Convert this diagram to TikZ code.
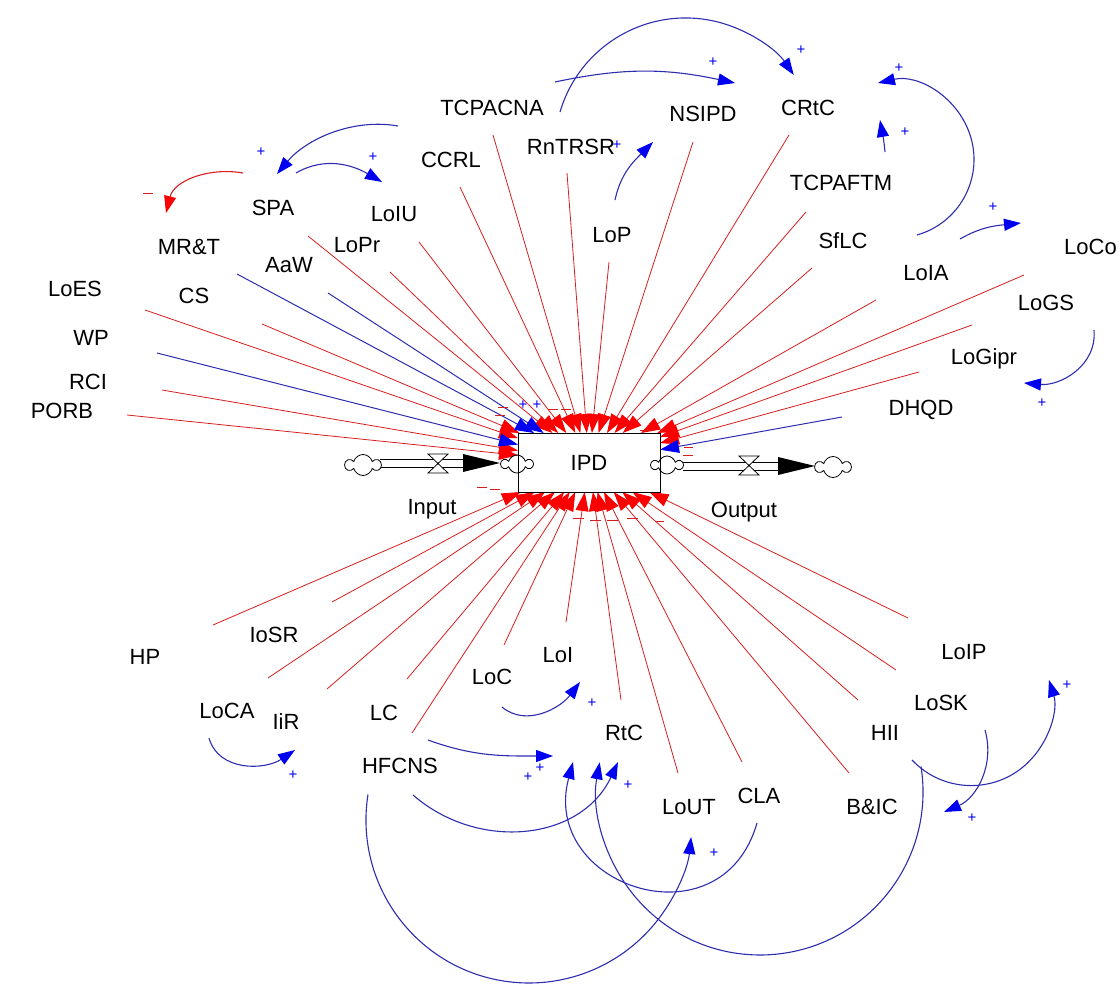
\documentclass[tikz,border=0pt]{standalone}
\usepackage{fontspec}
\setmainfont{Liberation Sans}
\usetikzlibrary{arrows.meta,shapes.symbols}
\definecolor{vred}{RGB}{215,30,30}
\definecolor{hred}{RGB}{250,0,0}
\definecolor{vblue}{RGB}{45,45,175}
\definecolor{hblue}{RGB}{0,0,240}
\begin{document}
\begin{tikzpicture}[x=1pt,y=1pt,
  lbl/.style={font=\fontsize{22}{24}\selectfont, inner sep=0pt, text height=15.8pt, text depth=0pt},
  redlink/.style={draw=vred, line width=0.8pt, -{Triangle[length=19pt,width=13pt,color=hred]}},
  bluelink/.style={draw=vblue, line width=1pt, -{Triangle[length=19pt,width=13pt,color=hblue]}},
  redarc/.style={draw=vred, line width=1.1pt, -{Triangle[length=17pt,width=12pt,color=hred]}},
  bluearc/.style={draw=vblue, line width=1.1pt, -{Triangle[length=17pt,width=12pt,color=hblue]}},
  plus/.style={text=hblue, font=\fontsize{15}{15}\selectfont, inner sep=0pt},
  minus/.style={draw=vred, line width=1pt},
  pipe/.style={draw=black, line width=0.8pt},
  cloudy/.style={cloud, cloud puffs=6, draw, line width=0.8pt, minimum width=35pt, minimum height=21pt, inner sep=0pt}
]
\useasboundingbox (0,0) rectangle (1120,-985);

% ---------- stock and flows ----------
\draw[pipe] (380,-459) -- (463,-459);
\draw[pipe] (380,-467) -- (463,-467);
\draw[pipe] (683,-462) -- (778,-462);
\draw[pipe] (683,-470) -- (778,-470);

% ---------- links into IPD (start points) ----------
\coordinate (sPORB) at (127,-415);
\coordinate (sRCI) at (162,-390);
\coordinate (sWP) at (157,-353);
\coordinate (sLoES) at (145,-310);
\coordinate (sCS) at (262,-324);
\coordinate (sMRT) at (237,-274);
\coordinate (sAaW) at (328,-293);
\coordinate (sSPA) at (308,-236);
\coordinate (sLoPr) at (390,-272);
\coordinate (sLoIU) at (419,-242);
\coordinate (sCCRL) at (460,-187);
\coordinate (sTCPACNA) at (493,-135);
\coordinate (sRnTRSR) at (567,-173);
\coordinate (sLoP) at (609,-262);
\coordinate (sNSIPD) at (693,-142);
\coordinate (sCRtC) at (789,-135);
\coordinate (sTCPAFTM) at (806,-212);
\coordinate (sSfLC) at (812,-268);
\coordinate (sLoIA) at (876,-300);
\coordinate (sLoCo) at (1024,-275);
\coordinate (sLoGS) at (972,-325);
\coordinate (sLoGipr) at (919,-372);
\coordinate (sDHQD) at (842,-417);
\coordinate (sHP) at (213,-625);
\coordinate (sIoSR) at (332,-602);
\coordinate (sLoCA) at (268,-678);
\coordinate (sIiR) at (327,-689);
\coordinate (sLC) at (407,-679);
\coordinate (sHFCNS) at (412,-733);
\coordinate (sLoC) at (504,-645);
\coordinate (sLoI) at (566,-622);
\coordinate (sRtC) at (621,-700);
\coordinate (sLoUT) at (678,-773);
\coordinate (sCLA) at (742,-762);
\coordinate (sBIC) at (849,-773);
\coordinate (sHII) at (858,-700);
\coordinate (sLoSK) at (896,-670);
\coordinate (sLoIP) at (908,-618);

\node[draw=none, minimum width=142pt, minimum height=59pt, inner sep=0pt, outer sep=0pt] (IPD0) at (589,-462.5) {};

\foreach \s in {sPORB,sRCI,sLoES,sCS,sSPA,sLoPr,sLoIU,sCCRL,sTCPACNA,sRnTRSR,sLoP,sNSIPD,sCRtC,sTCPAFTM,sSfLC,sLoIA,sLoCo,sLoGS,sLoGipr,sHP,sIoSR,sLoCA,sIiR,sLC,sHFCNS,sLoC,sLoI,sRtC,sLoUT,sCLA,sBIC,sHII,sLoSK,sLoIP}
  \draw[redlink] (\s) -- (IPD0);
\foreach \s in {sWP,sMRT,sAaW,sDHQD}
  \draw[bluelink] (\s) -- (IPD0);

% stock box
\node[draw, fill=white, line width=1pt, minimum width=142pt, minimum height=59pt, inner sep=0pt, lbl] (IPD) at (589,-462.5) {IPD};

% clouds, valves, flow arrow heads
\node[cloudy, fill=white] (c1) at (363,-465) {};
\node[cloudy, minimum width=31pt, minimum height=18pt] (c2) at (517,-464) {};
\node[cloudy, minimum width=31pt, minimum height=18pt] (c3) at (667,-465) {};
\node[cloudy, fill=white] (c4) at (833,-467) {};
\fill (463,-454) -- (500,-463) -- (463,-472) -- cycle;
\fill (778,-457) -- (815,-466) -- (778,-475) -- cycle;
\filldraw[fill=white, line width=0.8pt] (428,-454) -- (448,-454) -- (428,-473) -- (448,-473) -- cycle;
\filldraw[fill=white, line width=0.8pt] (739,-456) -- (759,-456) -- (739,-475) -- (759,-475) -- cycle;

% ---------- variable labels ----------
\node[lbl] (TCPACNA) at (492,-108) {TCPACNA};
\node[lbl] (CCRL) at (451,-160) {CCRL};
\node[lbl] (RnTRSR) at (571,-147) {RnTRSR};
\node[lbl] (NSIPD) at (703,-114) {NSIPD};
\node[lbl] (CRtC) at (808,-108) {CRtC};
\node[lbl] (SPA) at (273,-208) {SPA};
\node[lbl] (LoIU) at (394,-214) {LoIU};
\node[lbl] (MRT) at (189,-247) {MR\&T};
\node[lbl] (LoPr) at (357,-245) {LoPr};
\node[lbl] (AaW) at (289,-265) {AaW};
\node[lbl] (CS) at (194,-296) {CS};
\node[lbl] (LoES) at (75,-289) {LoES};
\node[lbl] (WP) at (91,-338) {WP};
\node[lbl] (RCI) at (88,-382) {RCI};
\node[lbl] (PORB) at (62,-411) {PORB};
\node[lbl] (LoP) at (612,-235) {LoP};
\node[lbl] (TCPAFTM) at (841,-183) {TCPAFTM};
\node[lbl] (SfLC) at (843,-241) {SfLC};
\node[lbl] (LoIA) at (926,-273) {LoIA};
\node[lbl, anchor=west] (LoCo) at (1064,-247) {LoCo};
\node[lbl] (LoGS) at (1046,-303) {LoGS};
\node[lbl] (LoGipr) at (984,-357) {LoGipr};
\node[lbl] (DHQD) at (921,-408) {DHQD};
\node[lbl] (HP) at (145,-657) {HP};
\node[lbl] (IoSR) at (274,-635) {IoSR};
\node[lbl] (LoCA) at (227,-711) {LoCA};
\node[lbl] (IiR) at (286,-722) {IiR};
\node[lbl] (LC) at (384,-713) {LC};
\node[lbl] (HFCNS) at (400,-766) {HFCNS};
\node[lbl] (LoC) at (492,-677) {LoC};
\node[lbl] (LoI) at (558,-655) {LoI};
\node[lbl] (RtC) at (624,-733) {RtC};
\node[lbl] (LoUT) at (689,-807) {LoUT};
\node[lbl] (CLA) at (759,-796) {CLA};
\node[lbl] (BIC) at (872,-807) {B\&IC};
\node[lbl] (HII) at (885,-733) {HII};
\node[lbl] (LoSK) at (941,-703) {LoSK};
\node[lbl] (LoIP) at (964,-652) {LoIP};
\node[lbl] (Input) at (432,-507) {Input};
\node[lbl] (Output) at (744,-510) {Output};

% ---------- curved causal links ----------
\coordinate (a1s) at (398,-126);  \coordinate (a1e) at (277,-174);
\coordinate (a2s) at (296,-173);  \coordinate (a2e) at (382,-182);
\coordinate (a3s) at (243,-173);  \coordinate (a3e) at (166,-213);
\coordinate (a4s) at (560,-112);
\coordinate (a5s) at (555,-82);   \coordinate (a5e) at (735,-83);
\coordinate (a6s) at (885,-152);  \coordinate (a6e) at (880,-120);
\coordinate (a7s) at (917,-235);
\coordinate (a8s) at (960,-239);  \coordinate (a8e) at (1021,-223);
\coordinate (a9s) at (1094,-330); \coordinate (a9e) at (1024,-383);
\coordinate (a10s) at (615,-200); \coordinate (a10e) at (653,-142);
\coordinate (a11s) at (502,-707); \coordinate (a11e) at (580,-682);
\coordinate (a12s) at (209,-738); \coordinate (a12e) at (295,-750);
\coordinate (a13s) at (428,-740); \coordinate (a13e) at (553,-756);
\coordinate (a14s) at (413,-795); \coordinate (a14e) at (618,-762);
\coordinate (a15s) at (368,-794.5);
\coordinate (a16s) at (757,-823); \coordinate (a16e) at (573,-762);
\coordinate (a17s) at (921,-766.5);
\coordinate (a18s) at (912,-760);
\coordinate (a19s) at (985,-730); \coordinate (a19e) at (944,-812);

\draw[bluearc] (a1s) to[out=170,in=50,looseness=0.9] (a1e);
\draw[bluearc] (a2s) to[out=30,in=150] (a2e);
\draw[redarc]  (a3s) to[out=170,in=76] (a3e);
\draw[bluearc] (a4s) arc[start angle=163.6, end angle=34.4, radius=131];
\draw[bluearc] (a5s) to[out=12,in=168] (a5e);
\draw[bluearc] (a6s) to[out=95,in=-80] (a6e);
\draw[bluearc] (a7s) arc[start angle=-74.1, end angle=102.9, radius=78.5];
\draw[bluearc] (a8s) to[out=30,in=186] (a8e);
\draw[bluearc] (a9s) to[out=275,in=-5,looseness=1.05] (a9e);
\draw[bluearc] (a10s) to[out=78,in=225] (a10e);
\draw[bluearc] (a11s) to[out=-40,in=233] (a11e);
\draw[bluearc] (a12s) to[out=-74,in=214,looseness=1.05] (a12e);
\draw[bluearc] (a13s) to[out=-20,in=180] (a13e);
\draw[bluearc] (a14s) to[out=-41,in=245,looseness=1.07] (a14e);
\draw[bluearc] (a15s) arc[start angle=171, end angle=354, radius=163];
\draw[bluearc] (a16s) to[out=254,in=255,looseness=1.7] (a16e);
\draw[bluearc] (a17s) arc[start angle=9, end angle=-190.5, radius=163];
\draw[bluearc] (a18s) arc[start angle=223.3, end angle=377.3, radius=81.4];
\draw[bluearc] (a19s) to[out=-74,in=23.5] (a19e);

% ---------- polarity signs ----------
\node[plus] at (261,-152) {+};
\node[plus] at (373,-157) {+};
\draw[minus] (143,-193) -- (153,-193);
\node[plus] at (713,-62) {+};
\node[plus] at (801,-50) {+};
\node[plus] at (905,-132) {+};
\node[plus] at (899,-68) {+};
\node[plus] at (993,-207) {+};
\node[plus] at (1042,-403) {+};
\node[plus] at (617,-145) {+};
\node[plus] at (592,-703) {+};
\node[plus] at (293,-775) {+};
\node[plus] at (540,-768) {+};
\node[plus] at (528,-777) {+};
\node[plus] at (628,-785) {+};
\node[plus] at (714,-853) {+};
\node[plus] at (1067,-685) {+};
\node[plus] at (972,-818) {+};
\node[plus] at (523,-405) {+};
\node[plus] at (537,-405) {+};
\draw[minus] (498,-407) -- (508,-407);
\draw[minus] (495,-415) -- (505,-415);
\draw[minus] (548,-409) -- (558,-409);
\draw[minus] (561,-409) -- (571,-409);
\draw[minus] (640,-430) -- (650,-430);
\draw[minus] (684,-447) -- (693,-447);
\draw[minus] (683,-455) -- (693,-455);
\draw[minus] (477,-487) -- (487,-487);
\draw[minus] (490,-489) -- (500,-489);
\draw[minus] (573,-518) -- (584,-518);
\draw[minus] (590,-520) -- (601,-520);
\draw[minus] (607,-520) -- (618,-520);
\draw[minus] (627,-518) -- (638,-518);
\draw[minus] (655,-521) -- (664,-521);
\end{tikzpicture}
\end{document}
